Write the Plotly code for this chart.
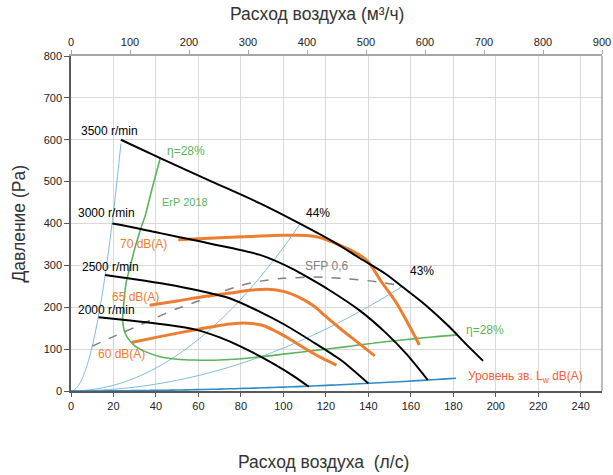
import plotly.graph_objects as go

# ---- data (l/s, Pa) ----
rpm3500_x = [23.5, 42, 65, 89, 108, 125, 136, 148, 156, 167, 178, 186, 194]
rpm3500_y = [600, 556, 503, 448, 399, 352, 317, 280, 249, 205, 154, 112, 72]
rpm3000_x = [19.5, 30, 42, 60, 75, 89, 105, 113, 121, 136, 148, 158, 168]
rpm3000_y = [400, 390, 377, 358, 342, 325, 290, 267, 243, 192, 140, 88, 26]
rpm2500_x = [16, 30, 45, 60, 75, 89, 100, 113, 127, 140]
rpm2500_y = [277, 267, 255, 240, 221, 189, 160, 120, 74, 18]
rpm2000_x = [13, 30, 45, 59, 70, 80, 95, 105, 112]
rpm2000_y = [176, 167, 158, 146, 128, 106, 66, 35, 10]

db70_x = [50.5, 65, 84, 100, 115, 128, 139, 146, 153, 159, 164]
db70_y = [361, 365, 369, 372, 369, 345, 313, 262, 212, 158, 110]
db65_x = [37, 50, 62, 75, 85, 93, 100, 107, 114, 120, 127, 135, 143]
db65_y = [205, 215, 225, 234, 241, 243, 238, 225, 204, 178, 148, 116, 84]
db60_x = [28.5, 40, 52, 65, 75, 83, 90, 97, 104, 111, 118, 125]
db60_y = [116, 128, 140, 152, 160, 162, 157, 141, 121, 99, 79, 62]

erp_x = [42, 38, 35, 33, 30, 28, 26, 25, 24.3, 25, 26.5, 30, 35, 42, 50, 58, 70, 80, 90, 100, 115, 130, 145, 160, 170, 182]
erp_y = [556, 480, 420, 390, 340, 300, 260, 217, 170, 145, 128, 108, 94, 82, 76, 74, 74, 77, 82, 88, 97, 106, 116, 124, 129, 134]

sfp_x = [10, 20, 30, 40, 50, 60, 70, 80, 90, 100, 115, 130, 144, 156]
sfp_y = [107, 130, 152, 175, 197, 215, 235, 252, 263, 269, 272, 268, 261, 251]

# system curves y = k*x^2 : (k, end x)
sys_k = [1.07, 0.0343, 0.01027]
sys_xend = [23.5, 107.8, 155.7]
lw_k = 0.00093
lw_xend = 181.3

m3h_ticks = [0, 100, 200, 300, 400, 500, 600, 700, 800, 900]
ls_ticks = list(range(0, 250, 20))
pa_ticks = list(range(0, 900, 100))

FONT = "Arial, Liberation Sans, sans-serif"
fig = go.Figure()

def line(x, y, color, width, dash=None, smoothing=0.8):
    fig.add_trace(go.Scatter(x=x, y=y, mode="lines", showlegend=False, hoverinfo="skip",
                             line=dict(color=color, width=width, dash=dash, shape="spline", smoothing=smoothing)))

def parab(k, xend, n=40):
    xs = [xend * i / n for i in range(n + 1)]
    return xs, [k * v * v for v in xs]

for k, xe in zip(sys_k, sys_xend):
    xs, ys = parab(k, xe)
    line(xs, ys, "#7DB9DE", 1)
xs, ys = parab(lw_k, lw_xend)
line(xs, ys, "#2E8BC8", 1.6)

line(erp_x, erp_y, "#5BB45B", 1.6)
line(sfp_x, sfp_y, "#808080", 1.5, "dash")

for xx, yy in [(db70_x, db70_y), (db65_x, db65_y), (db60_x, db60_y)]:
    line(xx, yy, "#ED7D31", 3, smoothing=1.0)

for xx, yy in [(rpm3500_x, rpm3500_y), (rpm3000_x, rpm3000_y), (rpm2500_x, rpm2500_y), (rpm2000_x, rpm2000_y)]:
    line(xx, yy, "#000000", 2)

# anchor trace for the top axis
fig.add_trace(go.Scatter(x=[m3h_ticks[0], m3h_ticks[-1]], y=[0, 0], xaxis="x2", yaxis="y",
                         mode="lines", line=dict(width=0), opacity=0, showlegend=False, hoverinfo="skip"))

labels = [
    ("3500 r/min", 3.8, 621, "#000000", 12),
    ("3000 r/min", 2.4, 425, "#000000", 12),
    ("2500 r/min", 4.2, 296, "#000000", 12),
    ("2000 r/min", 2.4, 194, "#000000", 12),
    ("η=28%", 44.3, 573, "#5BB45B", 12),
    ("ErP 2018", 41.9, 452, "#5BB45B", 11),
    ("44%", 109.7, 425, "#000000", 12),
    ("SFP 0,6", 109.2, 299, "#808080", 12),
    ("43%", 158.7, 287, "#000000", 12),
    ("70 dB(A)", 22.1, 351, "#ED7D31", 12),
    ("65 dB(A)", 18.4, 225, "#ED7D31", 12),
    ("60 dB(A)", 11.8, 88, "#ED7D31", 12),
    ("η=28%", 185, 146, "#5BB45B", 12),
    ("Уровень зв. L<sub>w</sub> dB(A)", 186, 33, "#F4623A", 12),
]
for t, x, y, c, s in labels:
    fig.add_annotation(x=x, y=y, text=t, showarrow=False, xanchor="left", yanchor="middle",
                       font=dict(family=FONT, size=s, color=c), xref="x", yref="y")

# axis titles (placed as paper annotations to match the reference's off-centre positions)
TITLE_FONT = dict(size=17.5, family=FONT, color="#333333")
axis_titles = [
    ("Расход воздуха (м³/ч)", 0.4633, 1.1254, 0),
    ("Расход воздуха  (л/с)", 0.4746, -0.2119, 0),
    ("Давление (Pa)", -0.0998, 0.5, -90),
]
for t, x, y, ang in axis_titles:
    fig.add_annotation(x=x, y=y, xref="paper", yref="paper", text=t, showarrow=False,
                       xanchor="center", yanchor="middle", textangle=ang, font=TITLE_FONT)

fig.add_shape(type="line", xref="paper", yref="paper", x0=1, x1=1, y0=0, y1=1,
              line=dict(color="#A6A6A6", width=1.5))

fig.update_layout(
    width=613, height=475,
    margin=dict(l=71, r=11, t=56, b=84),
    paper_bgcolor="white", plot_bgcolor="white",
    font=dict(family=FONT, size=11, color="#222222"),
    xaxis=dict(range=[0, 250], tickvals=ls_ticks, showgrid=True, gridcolor="#D9D9D9", gridwidth=1,
               showline=True, linecolor="#595959", linewidth=1.5, ticks="outside",
               ticklen=4, tickcolor="#595959", zeroline=False, automargin=False),
    xaxis2=dict(range=[0, 900], tickvals=m3h_ticks, overlaying="x", side="top", showgrid=False,
                showline=True, linecolor="#A6A6A6", linewidth=1.5, ticks="outside", ticklen=4,
                tickcolor="#A6A6A6", zeroline=False, automargin=False),
    yaxis=dict(range=[0, 800], tickvals=pa_ticks, showgrid=True, gridcolor="#D9D9D9", gridwidth=1,
               showline=True, linecolor="#595959", linewidth=1.5, ticks="outside", ticklen=5,
               tickcolor="#595959", zeroline=False, automargin=False),
)

fig.write_html("out.html", config={"displayModeBar": False},
               post_script="document.body.style.margin='0';document.body.style.overflow='hidden';")
